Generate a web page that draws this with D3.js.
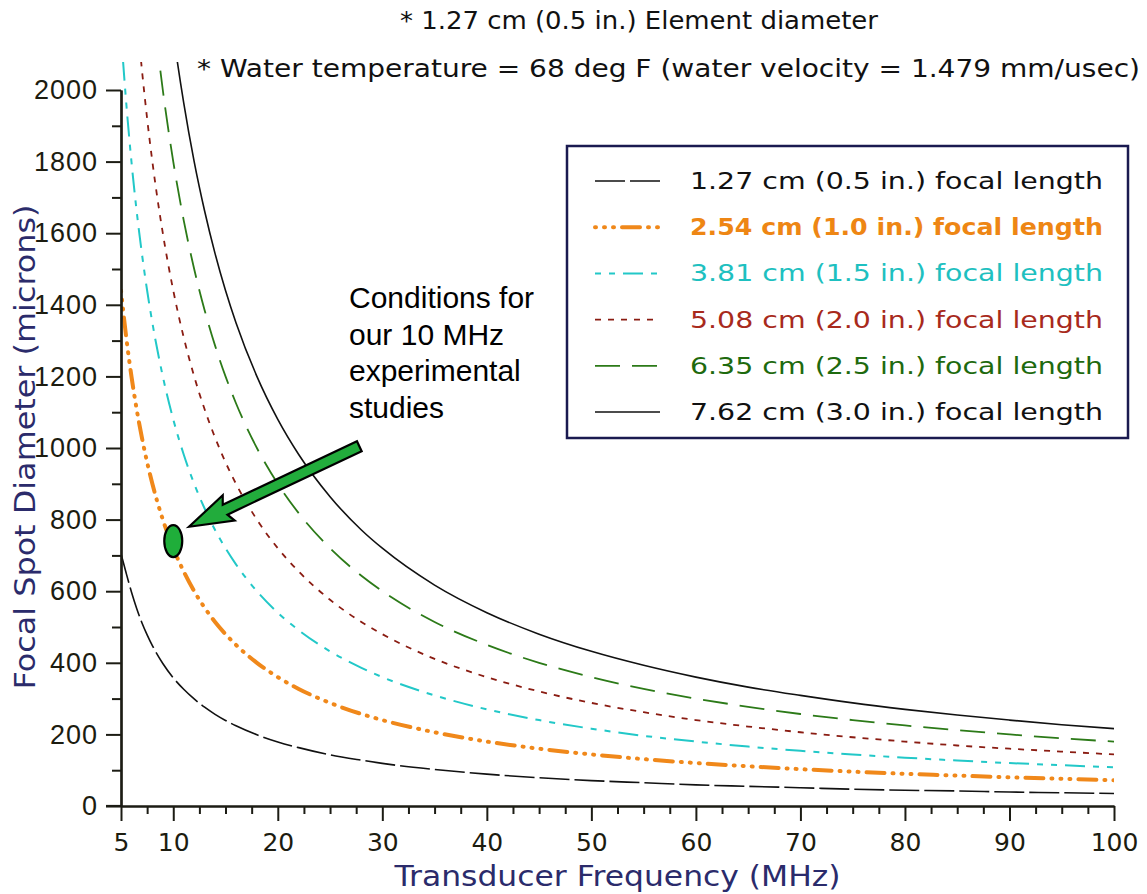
<!DOCTYPE html>
<html>
<head>
<meta charset="utf-8">
<script src="https://cdn.jsdelivr.net/npm/d3@7/dist/d3.min.js"></script>
<style>
  html, body { margin: 0; padding: 0; background: #fff; }
  svg { display: block; }
</style>
</head>
<body>
<svg id="chart" width="1147" height="894"></svg>
<script>
// ---------------- data ----------------
const freq = [5,5.5,6,6.5,7,7.5,8,9,10,11,12,13,14,15,16,18,20,22,25,28,30,35,40,45,50,55,60,65,70,75,80,85,90,95,100];

const fl127 = [705,650,598,552,512,478,448,398,358,326,299,276,256,239,224,199,179,163,143,128,119,102,89,79,71,65,59,55,51,47,44,42,39,37,35];
const fl254 = [1440,1309,1200,1108,1029,960,900,800,720,655,600,554,514,480,450,400,360,327,288,257,240,206,180,160,144,131,120,111,103,96,90,85,80,76,72];
const fl381 = [2160,1964,1800,1661,1543,1440,1350,1200,1080,982,900,831,771,720,675,600,540,491,432,386,360,309,270,240,216,196,180,166,154,144,135,127,120,114,108];
const fl508 = [2880,2618,2400,2215,2057,1920,1800,1600,1440,1309,1200,1108,1029,960,900,800,720,655,576,514,480,411,360,320,288,262,240,222,206,192,180,169,160,152,144];
const fl635 = [3600,3273,3000,2769,2571,2400,2250,2000,1800,1636,1500,1385,1286,1200,1125,1000,900,818,720,643,600,514,450,400,360,327,300,277,257,240,225,212,200,189,180];
const fl762 = [4320,3927,3600,3323,3086,2880,2700,2400,2160,1964,1800,1662,1543,1440,1350,1200,1080,982,864,771,720,617,540,480,432,393,360,332,309,288,270,254,240,227,216];

const seriesNames = [
  "1.27 cm (0.5 in.) focal length",
  "2.54 cm (1.0 in.) focal length",
  "3.81 cm (1.5 in.) focal length",
  "5.08 cm (2.0 in.) focal length",
  "6.35 cm (2.5 in.) focal length",
  "7.62 cm (3.0 in.) focal length"
];
const seriesValues = [fl127, fl254, fl381, fl508, fl635, fl762];

const xMajorTicks = [5,10,20,30,40,50,60,70,80,90,100];
const yMajorTicks = [0,200,400,600,800,1000,1200,1400,1600,1800,2000];

const noteLines = ["* 1.27 cm (0.5 in.) Element diameter",
                   "* Water temperature = 68 deg F (water velocity = 1.479 mm/usec)"];
const calloutLines = ["Conditions for", "our 10 MHz", "experimental", "studies"];
const experiment = {freq: 10, value: 740};

// ---------------- styles ----------------
const strokeFont = "'DejaVu Sans', 'Liberation Sans', sans-serif";
const styles = [
  {color: "#111111", text: "#111111", width: 1.6, dash: "30,5",  cap: "butt",  weight: 400},
  {color: "#f0881a", text: "#ee8614", width: 4,   dash: "1,8,1,8,1,8,18,8", cap: "round", weight: 700},
  {color: "#22c8c8", text: "#1ec0c0", width: 2,   dash: "6,8,6,8,20,8", cap: "butt", weight: 400},
  {color: "#8a1c12", text: "#a82a1c", width: 1.8, dash: "6,7",  cap: "butt",  weight: 400},
  {color: "#2c7a18", text: "#1e6a0e", width: 1.8, dash: "25,12", cap: "butt", weight: 400},
  {color: "#111111", text: "#111111", width: 1.6, dash: null,   cap: "butt",  weight: 400}
];

// ---------------- scales ----------------
const svg = d3.select("#chart");
const x = d3.scaleLinear().domain([5, 100]).range([121, 1114]);
const y = d3.scaleLinear().domain([0, 2000]).range([806, 90]);
const axisColor = "#1c1c14";
const navy = "#2b2b6b";

// clip
svg.append("defs").append("clipPath").attr("id", "plotclip")
  .append("rect").attr("x", x(5)).attr("y", 62).attr("width", x(100) - x(5)).attr("height", y(0) - 62);

// ---------------- curves ----------------
const line = d3.line()
  .x(d => x(d[0])).y(d => y(d[1]))
  .curve(d3.curveMonotoneX);

const gLines = svg.append("g").attr("clip-path", "url(#plotclip)");
seriesValues.forEach((vals, i) => {
  const st = styles[i];
  gLines.append("path")
    .datum(freq.map((f, j) => [f, vals[j]]))
    .attr("d", line)
    .attr("fill", "none")
    .attr("stroke", st.color)
    .attr("stroke-width", st.width)
    .attr("stroke-linecap", st.cap)
    .attr("stroke-dasharray", st.dash);
});

// ---------------- axes ----------------
const xMinor = d3.range(5, 100.01, 2.5).filter(v => !xMajorTicks.includes(v));
const yMinor = d3.range(100, 2000, 200);

const gx = svg.append("g").attr("transform", `translate(0,${y(0)})`);
gx.call(d3.axisBottom(x).tickValues(xMinor).tickSize(8).tickSizeOuter(0).tickFormat(""));
gx.call(g => g.append("g").call(d3.axisBottom(x).tickValues(xMajorTicks).tickSize(15).tickSizeOuter(0).tickPadding(12).tickFormat(d3.format("d"))));
gx.selectAll("path.domain").attr("stroke", axisColor).attr("stroke-width", 2.2);
gx.selectAll(".tick line").attr("stroke", axisColor).attr("stroke-width", 2);
gx.selectAll(".tick text")
  .attr("fill", "#1c1c10").attr("font-size", 25)
  .attr("font-family", strokeFont);
gx.append("line").attr("x1", x(5) - 15).attr("x2", x(5)).attr("y1", 0).attr("y2", 0)
  .attr("stroke", axisColor).attr("stroke-width", 2.2);

const gy = svg.append("g").attr("transform", `translate(${x(5)},0)`);
gy.call(d3.axisLeft(y).tickValues(yMinor).tickSize(9).tickSizeOuter(0).tickFormat(""));
gy.call(g => g.append("g").call(d3.axisLeft(y).tickValues(yMajorTicks).tickSize(15).tickSizeOuter(0).tickPadding(8).tickFormat(d3.format("d"))));
gy.selectAll("path.domain").attr("stroke", axisColor).attr("stroke-width", 2.2);
gy.selectAll(".tick line").attr("stroke", axisColor).attr("stroke-width", 2);
gy.selectAll(".tick text")
  .attr("fill", "#1c1c10").attr("font-size", 27)
  .attr("letter-spacing", 1)
  .attr("font-family", "'Liberation Sans', Arial, sans-serif");

// axis titles
svg.append("text").attr("font-family", strokeFont)
  .attr("x", (x(5) + x(100)) / 2).attr("y", 886)
  .attr("text-anchor", "middle").attr("fill", navy).attr("font-size", 28)
  .attr("textLength", 446).attr("lengthAdjust", "spacingAndGlyphs")
  .text("Transducer Frequency (MHz)");

svg.append("text").attr("font-family", strokeFont)
  .attr("transform", "translate(35,447) rotate(-90)")
  .attr("text-anchor", "middle").attr("fill", navy).attr("font-size", 28)
  .attr("textLength", 485).attr("lengthAdjust", "spacingAndGlyphs")
  .text("Focal Spot Diameter (microns)");

// ---------------- header notes ----------------
svg.append("text").attr("font-family", strokeFont)
  .attr("x", 400).attr("y", 29).attr("fill", "#111").attr("font-size", 24)
  .attr("textLength", 478).attr("lengthAdjust", "spacingAndGlyphs")
  .text(noteLines[0]);
svg.append("text").attr("font-family", strokeFont)
  .attr("x", 197).attr("y", 77).attr("fill", "#111").attr("font-size", 24)
  .attr("textLength", 943).attr("lengthAdjust", "spacingAndGlyphs")
  .text(noteLines[1]);

// ---------------- legend ----------------
const lg = svg.append("g");
lg.append("rect").attr("x", 567).attr("y", 146).attr("width", 561).attr("height", 292)
  .attr("fill", "#fff").attr("stroke", "#1a1a50").attr("stroke-width", 2.5);
const rowY = d3.scaleLinear().domain([0, 5]).range([181, 412]);
seriesNames.forEach((name, i) => {
  const st = styles[i];
  const yy = rowY(i);
  lg.append("line").attr("x1", 595).attr("x2", 660).attr("y1", yy).attr("y2", yy)
    .attr("stroke", st.color).attr("stroke-width", st.width)
    .attr("stroke-linecap", st.cap).attr("stroke-dasharray", st.dash);
  lg.append("text").attr("font-family", strokeFont)
    .attr("x", 690).attr("y", yy + 8).attr("fill", st.text).attr("font-size", 23)
    .attr("font-weight", st.weight)
    .attr("textLength", 413).attr("lengthAdjust", "spacingAndGlyphs")
    .text(name);
});

// ---------------- callout ----------------
const ct = svg.append("text").attr("font-family", "'Liberation Sans', Arial, sans-serif")
  .attr("font-size", 30).attr("fill", "#000");
calloutLines.forEach((t, i) => {
  ct.append("tspan").attr("x", 349).attr("y", 308 + i * 36.7).text(t);
});

// arrow (tip near the experiment marker, tail under the callout)
const tip = [x(11.5), y(780)];
const tail = [x(27.8), y(1005)];
const dx = tail[0] - tip[0], dy = tail[1] - tip[1];
const L = Math.hypot(dx, dy);
const ang = Math.atan2(dy, dx) * 180 / Math.PI;
const headL = 44, headW = 14, shaftW = 5.5;
const arrowPts = [[0,0],[headL,-headW],[headL - 4,-shaftW],[L,-shaftW],[L,shaftW],[headL - 4,shaftW],[headL,headW]];
svg.append("polygon")
  .attr("points", arrowPts.map(p => p.join(",")).join(" "))
  .attr("transform", `translate(${tip[0]},${tip[1]}) rotate(${ang})`)
  .attr("fill", "#22ac3c").attr("stroke", "#000").attr("stroke-width", 2.2)
  .attr("stroke-linejoin", "miter");

svg.append("ellipse")
  .attr("cx", x(experiment.freq)).attr("cy", y(experiment.value))
  .attr("rx", 9).attr("ry", 16)
  .attr("fill", "#1fae3a").attr("stroke", "#000").attr("stroke-width", 2.2);
</script>
</body>
</html>
